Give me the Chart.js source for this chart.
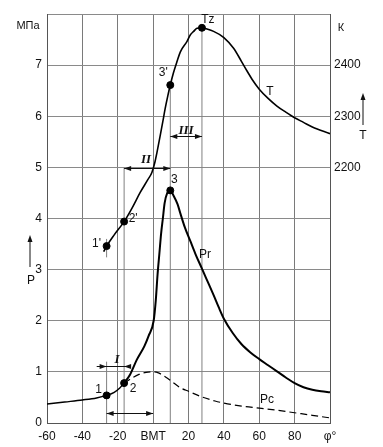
<!DOCTYPE html>
<html><head><meta charset="utf-8">
<script src="https://cdn.jsdelivr.net/npm/chart.js@4/dist/chart.umd.min.js"></script>
<style>html,body{margin:0;padding:0;background:#fff;overflow:hidden}</style>
</head><body>
<canvas id="c" width="383" height="447"></canvas>
<script>
// ---- tick labels ----
const xTickValues = [-60,-40,-20,0,20,40,60,80,100];
const xTickLabels = ['-60','-40','-20','ВМТ','20','40','60','80','φ°'];
const pTickLabels = ['0','1','2','3','4','5','6','7',''];
const tTickShown = [2200,2300,2400];

// ---- compression line (solid, before point 2), MPa ----
const compAngle = [-60,-50,-40,-32,-26.3,-22,-19,-16.4];
const compP     = [0.37,0.41,0.45,0.49,0.54,0.60,0.68,0.78];

// ---- motoring line Pc (dashed), MPa ----
const pcAngle = [-16.4,-12,-8,-4,0,3,7,11,15.4,20,27.6,35,40,50,60,70,80,90,100];
const pcP     = [0.78,0.88,0.95,0.99,1.0,0.98,0.90,0.80,0.69,0.62,0.51,0.43,0.39,0.33,0.29,0.25,0.20,0.15,0.10];

// ---- combustion/expansion line Pr, MPa ----
const prAngle = [-16.4,-13,-9.2,-5,-2.6,0.3,1.5,2.5,3.5,4.5,5.5,6.5,8,9.7,11.5,13.8,15.4,18,21,24,27.6,30,34.2,37,40,45,50,55,60,65,70,75,80,85,90,95,100];
const prP     = [0.78,0.95,1.24,1.5,1.70,2.0,2.4,2.9,3.3,3.7,4.0,4.3,4.5,4.55,4.45,4.28,4.10,3.82,3.56,3.30,3.02,2.83,2.50,2.27,2.04,1.76,1.54,1.38,1.25,1.13,1.01,0.89,0.78,0.70,0.65,0.62,0.60];

// ---- temperature line T, K ----
const tAngle = [-28,-26.3,-22,-16.4,-12,-7.3,-3,-0.7,1,2.1,4,5.5,6.8,8.3,9.7,11.5,13.5,15.4,19.1,21,22.9,24.8,27.6,30,34.2,40,45.5,50,53,56,60,65,70,75,80,85,90,100];
const tK     = [2035,2046,2068,2094,2120,2151,2176,2190,2210,2228,2262,2290,2315,2340,2361,2385,2407,2426,2446,2459,2466,2472,2473,2471,2466,2454,2433,2407,2389,2372,2353,2335,2320,2308,2297,2288,2279,2266];

// ---- marked points ----
const pMarkAngle = [-26.3,-16.4,9.7];
const pMarkP     = [0.54,0.78,4.55];
const pMarkLabel = ['1','2','3'];
const tMarkAngle = [-26.3,-16.4,9.7,27.6];
const tMarkK     = [2046,2094,2361,2473];
const tMarkLabel = ["1'","2'","3'",'Tz'];

const xy = (a,b)=>a.map((v,i)=>({x:v,y:b[i]}));

// guide lines (angle, from MPa, to MPa)
const guideAngle = [-26.3,-16.4,9.7,27.6,-26.3];
const guideFrom  = [0,0,0,0,3.24];
const guideTo    = [1.2,5.0,6.61,7.73,3.6];

const guideSets = guideAngle.map((a,i)=>({
  data:[{x:a,y:guideFrom[i]},{x:a,y:guideTo[i]}],
  borderColor:'#808080', borderWidth:1, pointRadius:0, yAxisID:'y', order:5
}));

const FONT = '"Liberation Sans", Arial, sans-serif';

const annot = {
  id:'annot',
  afterDatasetsDraw(chart){
    const ctx = chart.ctx, x = chart.scales.x, y = chart.scales.y, yT = chart.scales.yT;
    const X = v=>x.getPixelForValue(v), Y = v=>y.getPixelForValue(v), YT = v=>yT.getPixelForValue(v);
    ctx.save();
    ctx.fillStyle = '#111'; ctx.strokeStyle = '#111';
    ctx.font = '12px ' + FONT;
    ctx.textAlign = 'center'; ctx.textBaseline = 'middle';
    const pOff = [[-8,-6],[9,6],[4,-11]];
    pMarkAngle.forEach((a,i)=>ctx.fillText(pMarkLabel[i], X(a)+pOff[i][0], Y(pMarkP[i])+pOff[i][1]));
    const tOff = [[-10,-2],[9,-3],[-7,-12],[6,-8]];
    tMarkAngle.forEach((a,i)=>ctx.fillText(tMarkLabel[i], X(a)+tOff[i][0], YT(tMarkK[i])+tOff[i][1]));
    ctx.fillText('T', 270, 92);
    ctx.fillText('Pr', 205, 255);
    ctx.fillText('Pc', 267, 400);
    ctx.font = '11px ' + FONT;
    ctx.fillText('МПа', 28, 26);
    ctx.fillText('К', 341, 28);
    ctx.font = '12px ' + FONT;
    ctx.fillText('P', 31, 281);
    ctx.fillText('T', 363, 136);
    function vArrow(px, y1, y2){
      ctx.lineWidth = 1;
      ctx.beginPath(); ctx.moveTo(px, y1); ctx.lineTo(px, y2+4); ctx.stroke();
      ctx.beginPath(); ctx.moveTo(px, y2); ctx.lineTo(px-2.5, y2+7); ctx.lineTo(px+2.5, y2+7); ctx.closePath(); ctx.fill();
    }
    vArrow(30, 267, 235);
    vArrow(363, 125, 93);
    function head(px, py, dir){
      ctx.beginPath(); ctx.moveTo(px, py); ctx.lineTo(px-dir*7, py-2.5); ctx.lineTo(px-dir*7, py+2.5); ctx.closePath(); ctx.fill();
    }
    function hLine(a1, a2, p){
      ctx.lineWidth = 1;
      ctx.beginPath(); ctx.moveTo(X(a1), Math.round(Y(p))+0.5); ctx.lineTo(X(a2), Math.round(Y(p))+0.5); ctx.stroke();
    }
    hLine(-31.9,-13,1.11);
    head(X(-26.3), Math.round(Y(1.11))+0.5, 1);
    head(X(-16.4), Math.round(Y(1.11))+0.5, -1);
    hLine(-26.3,0,0.19);
    head(X(-26.3), Math.round(Y(0.19))+0.5, -1);
    head(X(0), Math.round(Y(0.19))+0.5, 1);
    hLine(-16.4,9.7,4.98);
    head(X(-16.4), Math.round(Y(4.98))+0.5, -1);
    head(X(9.7), Math.round(Y(4.98))+0.5, 1);
    hLine(9.7,27.6,5.61);
    head(X(9.7), Math.round(Y(5.61))+0.5, -1);
    head(X(27.6), Math.round(Y(5.61))+0.5, 1);
    ctx.font = 'italic bold 13px "Liberation Serif", "Times New Roman", serif';
    ctx.fillText('I', 117, 360);
    ctx.fillText('II', 146, 160);
    ctx.fillText('III', 186, 131);
    ctx.restore();
  }
};

new Chart(document.getElementById('c'), {
  type:'line',
  data:{ datasets:[
    {data:xy(compAngle,compP), borderColor:'#000', borderWidth:1.5, pointRadius:0, cubicInterpolationMode:'monotone', yAxisID:'y'},
    {data:xy(pcAngle,pcP), borderColor:'#000', borderWidth:1.2, borderDash:[7,4], pointRadius:0, cubicInterpolationMode:'monotone', yAxisID:'y'},
    {data:xy(prAngle,prP), borderColor:'#000', borderWidth:2, pointRadius:0, cubicInterpolationMode:'monotone', yAxisID:'y'},
    {data:xy(tAngle,tK), borderColor:'#000', borderWidth:1.6, pointRadius:0, cubicInterpolationMode:'monotone', yAxisID:'yT'},
    {data:xy(pMarkAngle,pMarkP), showLine:false, pointRadius:3.5, pointBackgroundColor:'#000', pointBorderColor:'#000', yAxisID:'y'},
    {data:xy(tMarkAngle,tMarkK), showLine:false, pointRadius:3.5, pointBackgroundColor:'#000', pointBorderColor:'#000', yAxisID:'yT'},
    ...guideSets
  ]},
  options:{
    responsive:false, animation:false, devicePixelRatio:1,
    layout:{padding:{top:14,left:0,right:0,bottom:0}},
    plugins:{legend:{display:false}, tooltip:{enabled:false}},
    scales:{
      x:{type:'linear', min:-60, max:100,
        afterBuildTicks:s=>{s.ticks = xTickValues.map(v=>({value:v}));},
        afterFit:s=>{s.height = 24;},
        ticks:{padding:6, maxRotation:0, autoSkip:false, color:'#111', font:{family:FONT,size:12},
          callback:v=>xTickLabels[xTickValues.indexOf(v)] ?? ''},
        grid:{color:'#7a7a7a', drawTicks:false, lineWidth:1},
        border:{color:'#555'}},
      y:{position:'left', min:0, max:8,
        afterBuildTicks:s=>{s.ticks = pTickLabels.map((l,i)=>({value:i}));},
        afterFit:s=>{s.width = 47;},
        ticks:{padding:5, color:'#111', font:{family:FONT,size:12}, callback:v=>pTickLabels[v] ?? ''},
        grid:{color:'#8a8a8a', drawTicks:false, lineWidth:1},
        border:{color:'#555'}},
      yT:{position:'right', min:1700, max:2500,
        afterBuildTicks:s=>{s.ticks = tTickShown.map(v=>({value:v}));},
        afterFit:s=>{s.width = 53;},
        ticks:{padding:4, color:'#111', font:{family:FONT,size:12}, callback:v=>String(v)},
        grid:{display:false, drawTicks:false},
        border:{color:'#555'}}
    }
  },
  plugins:[annot]
});
</script>
</body></html>
